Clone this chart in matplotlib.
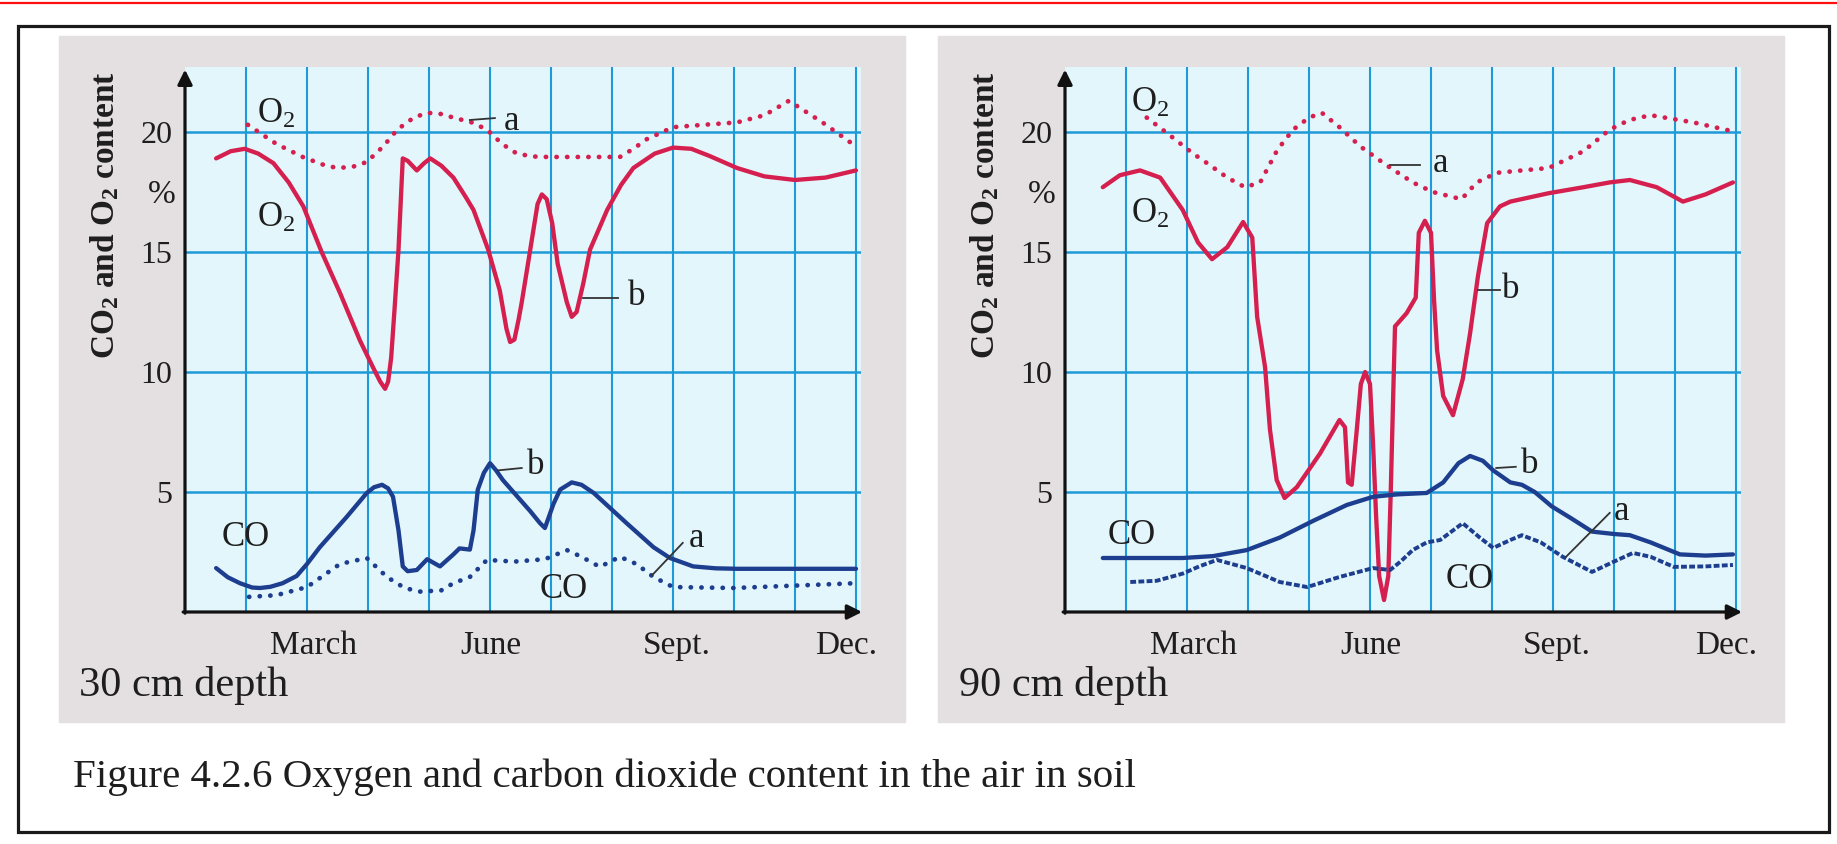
import matplotlib
matplotlib.use('Agg')
import matplotlib.pyplot as plt
from matplotlib.patches import Rectangle
from matplotlib.lines import Line2D

plt.rcParams['font.family'] = ['Liberation Serif', 'DejaVu Serif']
plt.rcParams['mathtext.fontset'] = 'custom'
plt.rcParams['mathtext.rm'] = 'Liberation Serif'
plt.rcParams['mathtext.it'] = 'Liberation Serif:italic'
plt.rcParams['mathtext.bf'] = 'Liberation Serif:bold'

# ---------------- data (month index: 0 = Jan ... 11 = Dec) ----------------
month_ticks = [2, 5, 8, 11]
month_labels = ['March', 'June', 'Sept.', 'Dec.']
y_ticks = [5, 10, 15, 20]

# 30 cm depth
o2_a_30_m = [1.03, 1.5, 1.93, 2.25, 2.49, 2.75, 2.98, 3.25, 3.48, 3.75, 3.97, 4.2, 4.4, 4.7, 4.95,
             5.2, 5.44, 5.7, 5.93, 6.5, 7.13, 7.35, 7.57, 8.0, 8.5, 9.05, 9.5, 9.9, 10.45, 11.0]
o2_a_30_v = [20.3, 19.5, 18.96, 18.65, 18.5, 18.55, 18.75, 19.4, 20.1, 20.6, 20.8, 20.75, 20.6,
             20.4, 20.1, 19.5, 19.1, 18.98, 18.96, 18.96, 18.96, 19.3, 19.7, 20.2, 20.3, 20.4,
             20.7, 21.3, 20.4, 19.4]

o2_b_30_m = [0.51, 0.75, 0.98, 1.2, 1.45, 1.7, 1.94, 2.24, 2.54, 2.87, 3.1, 3.2, 3.28, 3.33, 3.38,
             3.44, 3.5, 3.57, 3.65, 3.8, 3.92, 4.02, 4.2, 4.4, 4.6, 4.73, 4.97, 5.16, 5.27, 5.33,
             5.4, 5.47, 5.52, 5.66, 5.78, 5.85, 5.93, 6.02, 6.11, 6.26, 6.34, 6.42, 6.53, 6.64,
             6.92, 7.15, 7.35, 7.7, 8.0, 8.3, 8.6, 9.05, 9.5, 10.0, 10.5, 11.0]
o2_b_30_v = [18.9, 19.2, 19.3, 19.1, 18.7, 17.9, 16.9, 15.0, 13.3, 11.3, 10.1, 9.6, 9.3, 9.6, 10.6,
             12.8, 15.1, 18.9, 18.8, 18.4, 18.7, 18.9, 18.6, 18.1, 17.3, 16.75, 15.1, 13.4, 11.8,
             11.25, 11.35, 12.2, 12.9, 15.1, 17.0, 17.4, 17.2, 16.2, 14.5, 12.9, 12.3, 12.5, 13.7,
             15.1, 16.75, 17.8, 18.5, 19.1, 19.35, 19.3, 19.0, 18.5, 18.15, 18.0, 18.1, 18.4]

co2_b_30_m = [0.51, 0.7, 0.9, 1.1, 1.23, 1.4, 1.6, 1.83, 2.0, 2.21, 2.65, 2.98, 3.1, 3.23, 3.33,
              3.41, 3.5, 3.57, 3.65, 3.8, 3.97, 4.18, 4.4, 4.5, 4.67, 4.73, 4.8, 4.9, 5.0, 5.1,
              5.21, 5.66, 5.82, 5.9, 6.04, 6.15, 6.34, 6.5, 6.7, 7.24, 7.68, 7.95, 8.33, 8.7,
              9.05, 10.0, 11.0]
co2_b_30_v = [1.83, 1.45, 1.2, 1.02, 1.0, 1.05, 1.2, 1.5, 2.0, 2.7, 3.96, 4.96, 5.2, 5.3, 5.15,
              4.8, 3.4, 1.9, 1.7, 1.75, 2.2, 1.9, 2.4, 2.65, 2.6, 3.4, 5.1, 5.8, 6.2, 5.9,
              5.5, 4.2, 3.7, 3.5, 4.5, 5.1, 5.4, 5.3, 4.96, 3.7, 2.7, 2.25, 1.9, 1.82,
              1.8, 1.8, 1.8]

co2_a_30_m = [1.05, 1.5, 2.0, 2.54, 2.98, 3.31, 3.6, 3.85, 4.2, 4.4, 4.67, 4.95, 5.4, 5.9, 6.26,
              6.5, 6.8, 7.13, 7.4, 7.68, 8.0, 9.0, 10.0, 11.0]
co2_a_30_v = [0.63, 0.7, 1.04, 2.0, 2.25, 1.46, 1.0, 0.85, 0.9, 1.2, 1.46, 2.17, 2.1, 2.2, 2.58,
              2.3, 1.88, 2.3, 2.0, 1.46, 1.04, 1.0, 1.1, 1.2]

# 90 cm depth
o2_a_90_m = [1.34, 1.67, 2.1, 2.33, 2.66, 2.95, 3.2, 3.48, 3.74, 4.0, 4.21, 4.5, 4.84, 5.28, 5.7,
             6.03, 6.5, 6.75, 7.08, 7.5, 7.93, 8.5, 8.93, 9.25, 9.6, 10.3, 11.0]
o2_a_90_v = [20.6, 19.96, 19.1, 18.7, 18.1, 17.7, 17.9, 19.25, 20.1, 20.6, 20.8, 20.2, 19.4, 18.6,
             17.9, 17.5, 17.2, 17.9, 18.3, 18.4, 18.5, 19.2, 20.1, 20.5, 20.7, 20.4, 20.0]

o2_b_90_m = [0.62, 0.9, 1.23, 1.56, 1.93, 2.18, 2.41, 2.66, 2.92, 3.07, 3.15, 3.28, 3.36, 3.47,
             3.6, 3.8, 4.18, 4.5, 4.59, 4.64, 4.7, 4.78, 4.85, 4.92, 5.0, 5.05, 5.1, 5.15, 5.23,
             5.3, 5.34, 5.38, 5.41, 5.6, 5.75, 5.8, 5.9, 6.0, 6.05, 6.1, 6.2, 6.36, 6.52, 6.64,
             6.77, 6.92, 7.13, 7.3, 7.93, 8.5, 8.93, 9.26, 9.7, 10.13, 10.5, 10.95]
o2_b_90_v = [17.7, 18.2, 18.4, 18.1, 16.75, 15.4, 14.7, 15.2, 16.25, 15.6, 12.3, 10.2, 7.6, 5.5,
             4.75, 5.2, 6.6, 8.0, 7.7, 5.4, 5.3, 7.5, 9.5, 10.0, 9.5, 7.0, 4.0, 1.5, 0.5,
             1.5, 5.0, 9.0, 11.9, 12.45, 13.1, 15.8, 16.3, 15.8, 13.0, 10.9, 9.0, 8.2, 9.7, 11.6,
             14.0, 16.2, 16.9, 17.1, 17.45, 17.7, 17.9, 18.0, 17.7, 17.1, 17.4, 17.9]

co2_b_90_m = [0.62, 1.0, 1.5, 1.93, 2.43, 2.98, 3.52, 4.07, 4.62, 5.05, 5.44, 5.93, 6.2, 6.45,
              6.64, 6.85, 7.02, 7.3, 7.49, 7.7, 7.98, 8.3, 8.64, 9.0, 9.26, 9.6, 10.08, 10.5, 10.95]
co2_b_90_v = [2.25, 2.25, 2.25, 2.25, 2.33, 2.58, 3.1, 3.8, 4.46, 4.8, 4.9, 4.96, 5.4, 6.2,
              6.5, 6.3, 5.9, 5.4, 5.3, 5.0, 4.4, 3.9, 3.35, 3.25, 3.2, 2.9, 2.4, 2.35, 2.4]

co2_a_90_m = [1.07, 1.5, 1.93, 2.2, 2.49, 2.98, 3.52, 3.97, 4.5, 5.05, 5.33, 5.5, 5.7, 5.93, 6.15,
              6.52, 6.8, 7.02, 7.3, 7.49, 7.8, 8.16, 8.64, 9.0, 9.31, 9.6, 9.98, 10.5, 10.95]
co2_a_90_v = [1.25, 1.3, 1.6, 1.9, 2.17, 1.83, 1.25, 1.04, 1.46, 1.83, 1.75, 2.1, 2.58, 2.9, 3.0,
              3.7, 3.1, 2.67, 3.0, 3.2, 2.9, 2.3, 1.67, 2.1, 2.46, 2.3, 1.88, 1.9, 1.96]

caption = 'Figure 4.2.6 Oxygen and carbon dioxide content in the air in soil'

# ---------------- styling ----------------
W, H, DPI = 1837, 844, 100
RED = '#d51f4f'
BLUE = '#1d3d8e'
GRID = '#1f9ad8'
CYAN = '#e3f6fb'
GREY = '#e4dfe0'
TXT = '#1e1e1e'

fig = plt.figure(figsize=(W / DPI, H / DPI), dpi=DPI)
fig.patch.set_facecolor('white')


def fx(px):
    return px / W


def fy(py):
    return 1 - py / H


# red rule at top and black frame
fig.add_artist(Line2D([0, 1], [fy(3), fy(3)], transform=fig.transFigure, color='#ff1010', lw=1.6))
fig.add_artist(Rectangle((fx(18), fy(832)), (1829 - 18) / W, (832 - 26) / H, transform=fig.transFigure,
                         fill=False, ec='#1a1a1a', lw=2.3, zorder=5))
# grey panels
for gx0 in (59, 938):
    fig.add_artist(Rectangle((fx(gx0), fy(722)), 846 / W, (722 - 36) / H, transform=fig.transFigure,
                             color=GREY, zorder=0))

fig.text(fx(73), fy(777), caption, fontsize=29.5, va='center', ha='left', color=TXT)

XMAX, YMAX = 11.08, 22.7
dot_style = (0, (0.05, 2.2))


def panel(x0, depth_label, series, texts):
    ax = fig.add_axes([fx(x0), fy(612), (61 * XMAX) / W, (24 * YMAX) / H])
    ax.set_facecolor(CYAN)
    for s in ax.spines.values():
        s.set_visible(False)
    ax.set_xlim(0, XMAX)
    ax.set_ylim(0, YMAX)
    for m in range(1, 12):
        ax.axvline(m, color=GRID, lw=1.5, zorder=1)
    for v in y_ticks:
        ax.axhline(v, color=GRID, lw=1.8, zorder=1)
    ax.set_xticks([])
    ax.set_yticks(y_ticks)
    ax.set_yticklabels([str(v) for v in y_ticks])
    ax.tick_params(axis='y', length=0, pad=9, labelsize=23, labelcolor=TXT)

    (o2a_m, o2a_v), (o2b_m, o2b_v), (co2b_m, co2b_v), (co2a_m, co2a_v), co2a_ls = series
    ax.plot(o2a_m, o2a_v, color=RED, lw=3.4, ls=dot_style, dash_capstyle='round', zorder=3)
    ax.plot(o2b_m, o2b_v, color=RED, lw=3.1, solid_joinstyle='round', solid_capstyle='round', zorder=3)
    ax.plot(co2b_m, co2b_v, color=BLUE, lw=3.1, solid_joinstyle='round', solid_capstyle='round', zorder=3)
    if co2a_ls == 'dot':
        ax.plot(co2a_m, co2a_v, color=BLUE, lw=3.4, ls=dot_style, dash_capstyle='round', zorder=3)
    else:
        ax.plot(co2a_m, co2a_v, color=BLUE, lw=2.8, ls=(0, (1.5, 0.6)), zorder=3)

    # axes with arrow heads
    ax.annotate('', xy=(0, YMAX - 0.1), xytext=(0, -0.05),
                arrowprops=dict(arrowstyle='-|>', color='#111111', lw=2.3, mutation_scale=22,
                                shrinkA=0, shrinkB=0), annotation_clip=False, zorder=6)
    ax.annotate('', xy=(XMAX + 0.02, 0), xytext=(-0.03, 0),
                arrowprops=dict(arrowstyle='-|>', color='#111111', lw=2.3, mutation_scale=22,
                                shrinkA=0, shrinkB=0), annotation_clip=False, zorder=6)

    for m, lab, off in zip(month_ticks, month_labels, [0.1, 0.02, 0.06, -0.17]):
        ax.text(m + off, -1.4, lab, ha='center', va='center', fontsize=24, color=TXT, clip_on=False)

    ax.text(-1.32, 16.55, r'CO$_\mathbf{2}$ and O$_\mathbf{2}$ content', rotation=90, ha='center',
            va='center', fontsize=24, fontweight='bold', color=TXT, clip_on=False)
    ax.text(-0.38, 17.4, '%', ha='center', va='center', fontsize=24, color=TXT, clip_on=False)
    ax.text(-1.74, -3.05, depth_label, ha='left', va='center', fontsize=30.5, color=TXT, clip_on=False)

    for t in texts:
        kind = t[0]
        if kind == 'txt':
            _, x, y, s = t
            ax.text(x, y, s, ha='center', va='center', fontsize=25, color=TXT, zorder=4)
        else:
            _, x1, y1, x2, y2 = t
            ax.plot([x1, x2], [y1, y2], color='#333333', lw=1.3, zorder=4)
    return ax


panel(185, '30 cm depth',
      [(o2_a_30_m, o2_a_30_v), (o2_b_30_m, o2_b_30_v), (co2_b_30_m, co2_b_30_v),
       (co2_a_30_m, co2_a_30_v), 'dot'],
      [('txt', 1.49, 20.75, r'O$_2$'), ('txt', 1.49, 16.4, r'O$_2$'),
       ('line', 4.67, 20.5, 5.08, 20.58), ('txt', 5.36, 20.45, 'a'),
       ('line', 6.52, 13.08, 7.1, 13.08), ('txt', 7.41, 13.15, 'b'),
       ('line', 5.13, 5.9, 5.52, 6.0), ('txt', 5.75, 6.1, 'b'),
       ('line', 7.66, 1.54, 8.16, 2.88), ('txt', 8.38, 3.05, 'a'),
       ('txt', 1.0, 3.12, 'CO'), ('txt', 6.2, 0.95, 'CO')])

panel(1065, '90 cm depth',
      [(o2_a_90_m, o2_a_90_v), (o2_b_90_m, o2_b_90_v), (co2_b_90_m, co2_b_90_v),
       (co2_a_90_m, co2_a_90_v), 'dash'],
      [('txt', 1.39, 21.2, r'O$_2$'), ('txt', 1.39, 16.55, r'O$_2$'),
       ('line', 5.33, 18.63, 5.82, 18.63), ('txt', 6.15, 18.7, 'a'),
       ('line', 6.77, 13.4, 7.13, 13.4), ('txt', 7.31, 13.45, 'b'),
       ('line', 7.07, 6.0, 7.39, 6.05), ('txt', 7.62, 6.15, 'b'),
       ('line', 8.21, 2.29, 8.93, 4.13), ('txt', 9.13, 4.2, 'a'),
       ('txt', 1.1, 3.17, 'CO'), ('txt', 6.64, 1.35, 'CO')])

fig.savefig('out.png', dpi=DPI, facecolor='white')
